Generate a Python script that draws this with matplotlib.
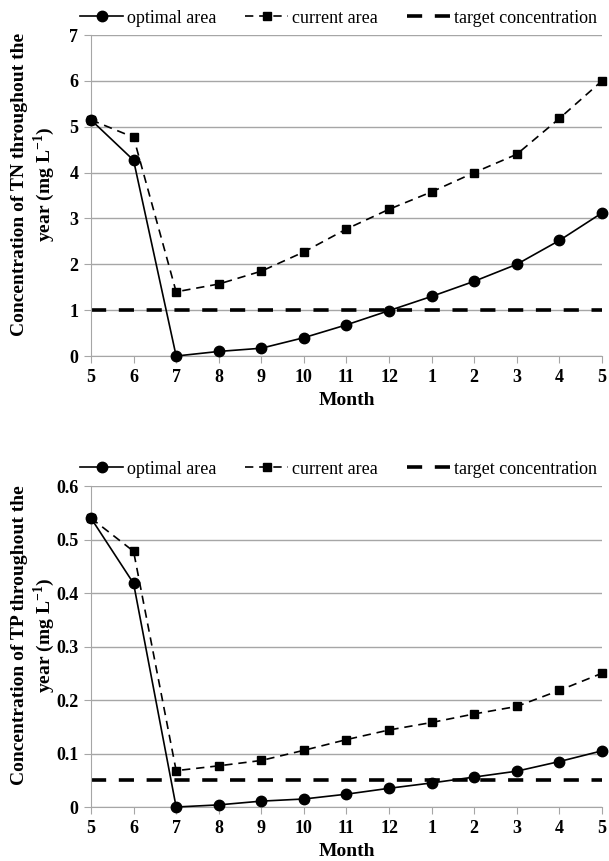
import matplotlib
matplotlib.use("Agg")
import matplotlib.pyplot as plt

plt.rcParams['font.family'] = ['Liberation Serif', 'DejaVu Serif']
plt.rcParams['mathtext.fontset'] = 'custom'
plt.rcParams['mathtext.rm'] = 'Liberation Serif'
plt.rcParams['mathtext.bf'] = 'Liberation Serif:bold'

months = ['5', '6', '7', '8', '9', '10', '11', '12', '1', '2', '3', '4', '5']

tn_optimal = [5.15, 4.27, 0.0, 0.1, 0.17, 0.4, 0.68, 0.99, 1.3, 1.63, 2.0, 2.52, 3.12]
tn_current = [5.15, 4.77, 1.4, 1.57, 1.85, 2.27, 2.77, 3.2, 3.58, 4.0, 4.4, 5.18, 6.0]
tn_target = 1.0

tp_optimal = [0.54, 0.418, 0.0, 0.004, 0.011, 0.015, 0.024, 0.035, 0.045, 0.056, 0.067, 0.085, 0.105]
tp_current = [0.54, 0.478, 0.068, 0.077, 0.087, 0.106, 0.126, 0.144, 0.158, 0.174, 0.188, 0.218, 0.25]
tp_target = 0.05


def draw_panel(ax, optimal, current, target, ymax, ystep, yfmt, name):
    x = list(range(len(months)))
    ax.plot(x, optimal, '-', color='black', lw=1.2, marker='o', ms=7.5, label='optimal area',
            clip_on=False, zorder=3)
    ax.plot(x, current, '--', color='black', lw=1.2, marker='s', ms=6,
            dashes=(5, 3.5), label='current area', clip_on=False, zorder=3)
    ax.plot([x[0], x[-1]], [target, target], color='black', lw=2.6,
            dashes=(4.2, 3.5), label='target concentration', zorder=2)

    ax.set_xlim(0, len(months) - 1)
    ax.set_ylim(0, ymax)
    ax.set_xticks(x)
    ax.set_xticklabels(months, fontweight='bold', fontsize=13)
    ticks = [i * ystep for i in range(int(round(ymax / ystep)) + 1)]
    ax.set_yticks(ticks)
    ax.set_yticklabels([yfmt(t) for t in ticks], fontweight='bold', fontsize=13)
    ax.yaxis.grid(True, color='#a6a6a6', lw=1)
    ax.set_axisbelow(True)
    for s in ['top', 'right']:
        ax.spines[s].set_visible(False)
    for s in ['left', 'bottom']:
        ax.spines[s].set_color('#a6a6a6')
    ax.tick_params(axis='both', color='#a6a6a6', length=5, pad=4)
    ax.set_xlabel('Month', fontweight='bold', fontsize=14, labelpad=5)
    ax.set_ylabel('Concentration of %s throughout the\nyear (mg L$^{\\mathbf{-1}}$)' % name,
                  fontweight='bold', fontsize=14)
    ax.yaxis.set_label_coords(-0.066, 0.535)
    ax.legend(loc='lower center', bbox_to_anchor=(0.484, 1.015), ncol=3, frameon=False,
              fontsize=13, handlelength=2.4, handletextpad=0.2, columnspacing=1.6,
              borderaxespad=0.0, borderpad=0.2)


fig = plt.figure(figsize=(6.09, 8.61), dpi=100)
ax1 = fig.add_axes([0.1494, 0.5865, 0.839, 0.3728])
ax2 = fig.add_axes([0.1494, 0.0627, 0.839, 0.3728])

draw_panel(ax1, tn_optimal, tn_current, tn_target, 7, 1, lambda v: '%d' % v, 'TN')
draw_panel(ax2, tp_optimal, tp_current, tp_target, 0.6, 0.1,
           lambda v: '0' if v == 0 else '%.1f' % v, 'TP')

fig.savefig('out.png', dpi=100)
